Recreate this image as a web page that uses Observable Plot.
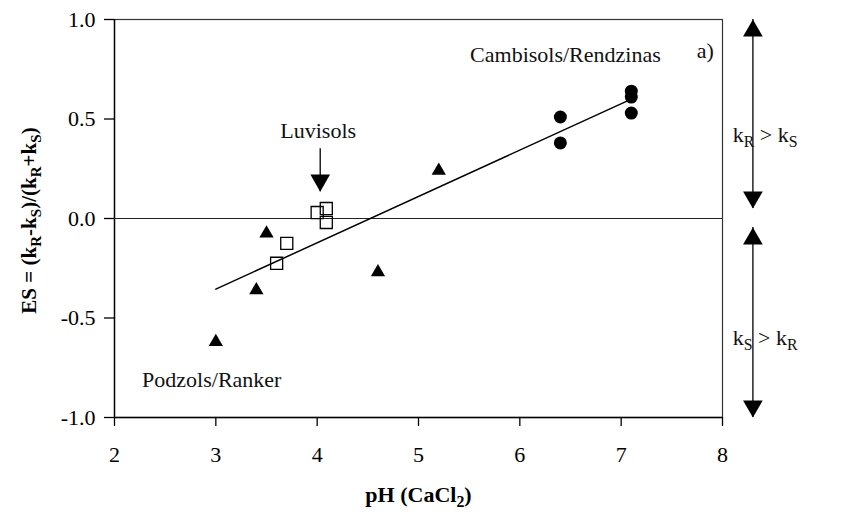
<!DOCTYPE html>
<html><head><meta charset="utf-8">
<script src="https://cdn.jsdelivr.net/npm/d3@7"></script>
<script src="https://cdn.jsdelivr.net/npm/@observablehq/plot@0.6"></script>
<style>
body{margin:0;background:#fff;}
</style>
</head><body><div id="chart"></div>
<script>
// ---- data ----
const circlesPH = [6.4, 6.4, 7.1, 7.1, 7.1];
const circlesES = [0.51, 0.38, 0.64, 0.61, 0.53];
const trianglesPH = [3.0, 3.4, 3.5, 4.6, 5.2];
const trianglesES = [-0.62, -0.36, -0.075, -0.27, 0.24];
const squaresPH = [3.6, 3.7, 4.0, 4.09, 4.09];
const squaresES = [-0.225, -0.125, 0.03, 0.05, -0.02];
const fitPH = [3.0, 7.1];
const fitES = [-0.355, 0.60];
const xTicks = [2, 3, 4, 5, 6, 7, 8];
const yTicks = [-1.0, -0.5, 0.0, 0.5, 1.0];

const labelNames = ["Cambisols/Rendzinas", "a)", "Luvisols", "Podzols/Ranker", "k_R > k_S", "k_S > k_R"];
const labelPH = [6.45, 7.83, 4.01, 2.96, 8.42, 8.42];
const labelES = [0.82, 0.84, 0.44, -0.81, 0.42, -0.60];
const labelAnchor = ["middle", "middle", "middle", "middle", "start", "start"];

const arrowPH = [4.03, 8.3, 8.3];
const arrowTop = [0.35, 1.0, -0.045];
const arrowBottom = [0.135, 0.05, -1.0];
const arrowHasUpHead = [false, true, true];

// ---- tables ----
const circles = circlesPH.map((x, i) => ({x, y: circlesES[i]}));
const triangles = trianglesPH.map((x, i) => ({x, y: trianglesES[i]}));
const squares = squaresPH.map((x, i) => ({x, y: squaresES[i]}));
const fit = fitPH.map((x, i) => ({x, y: fitES[i]}));
const labels = labelNames.map((t, i) => ({t, x: labelPH[i], y: labelES[i], a: labelAnchor[i]}));
const arrows = arrowPH.map((x, i) => ({x, y1: arrowTop[i], y2: arrowBottom[i], up: arrowHasUpHead[i]}));

const serif = "'Liberation Serif', 'Times New Roman', serif";
const downTriangle = {
  draw(context, size) {
    const s3 = Math.sqrt(3);
    const y = Math.sqrt(size / (s3 * 3));
    context.moveTo(0, y * 2);
    context.lineTo(-s3 * y, -y);
    context.lineTo(s3 * y, -y);
    context.closePath();
  }
};
const headR = 7.3;
const headOff = 2 * Math.sqrt(Math.PI * headR * headR / (3 * Math.sqrt(3)));

const chart = Plot.plot({
  width: 849,
  height: 515,
  marginTop: 19,
  marginRight: 127,
  marginBottom: 98,
  marginLeft: 114,
  style: {fontFamily: serif, background: "#fff", color: "#000"},
  x: {domain: [2, 8]},
  y: {domain: [-1, 1]},
  marks: [
    Plot.frame({stroke: "#333", strokeWidth: 1.2}),
    Plot.axisX({ticks: xTicks, tickSize: 9, tickPadding: 20, fontSize: 22, label: null, tickFormat: d => String(d), strokeWidth: 1.3}),
    Plot.axisY({ticks: yTicks, tickSize: 10, tickPadding: 9, fontSize: 22, label: null, tickFormat: d => d.toFixed(1), strokeWidth: 1.3}),
    Plot.ruleX([2], {stroke: "#000", strokeWidth: 1.4}),
    Plot.ruleY([-1], {stroke: "#000", strokeWidth: 1.4}),
    Plot.ruleY([0], {stroke: "#222", strokeWidth: 1}),
    Plot.line(fit, {x: "x", y: "y", stroke: "#000", strokeWidth: 1.5}),
    Plot.dot(circles, {x: "x", y: "y", r: 6.5, fill: "#000", stroke: "none"}),
    Plot.dot(triangles, {x: "x", y: "y", symbol: "triangle", r: 5.3, fill: "#000", stroke: "none"}),
    Plot.dot(squares, {x: "x", y: "y", symbol: "square", r: 6.8, fill: "none", stroke: "#000", strokeWidth: 1.3}),
    Plot.ruleX(arrows, {x: "x", y1: "y1", y2: "y2", stroke: "#000", strokeWidth: 1.3}),
    Plot.dot(arrows.filter(d => d.up), {x: "x", y: "y1", symbol: "triangle", r: headR, fill: "#000", stroke: "none", dy: headOff}),
    Plot.dot(arrows, {x: "x", y: "y2", symbol: downTriangle, r: headR, fill: "#000", stroke: "none", dy: -headOff}),
    Plot.text(labels, {x: "x", y: "y", text: "t", textAnchor: "a", fontSize: 22, fill: "#111"}),
    Plot.text(["pH (CaCl_2)"], {frameAnchor: "bottom", dy: 84, fontSize: 22, fontWeight: "bold"}),
    Plot.text(["ES = (k_R-k_S)/(k_R+k_S)"], {x: () => 2, y: () => -0.01, rotate: -90, dx: -85, fontSize: 21, fontWeight: "bold"})
  ]
});

// turn "_X" into a real subscript tspan (baseline-shift keeps one text chunk)
chart.querySelectorAll("text").forEach(t => {
  const s = t.textContent;
  if (!s.includes("_")) return;
  while (t.firstChild) t.removeChild(t.firstChild);
  const parts = s.split(/(_\w)/).filter(p => p.length);
  for (const p of parts) {
    const ts = document.createElementNS("http://www.w3.org/2000/svg", "tspan");
    if (p[0] === "_") {
      ts.textContent = p.slice(1);
      ts.setAttribute("font-size", "72%");
      ts.setAttribute("baseline-shift", "-0.3em");
    } else {
      ts.textContent = p;
    }
    t.appendChild(ts);
  }
});

document.getElementById("chart").appendChild(chart);
</script>
</body></html>
